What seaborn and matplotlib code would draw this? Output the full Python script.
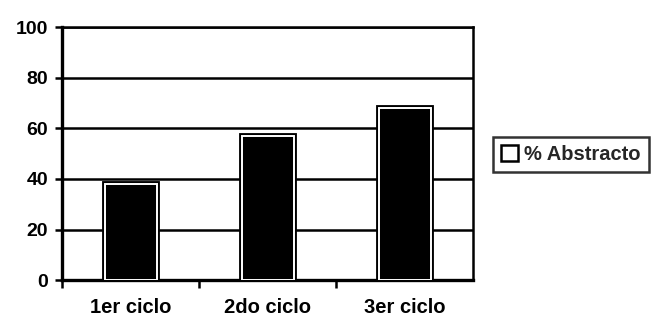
import matplotlib
matplotlib.use("Agg")
import matplotlib.pyplot as plt
import matplotlib.patheffects as pe
from matplotlib.patches import Patch
import seaborn as sns
import pandas as pd

categories = ["1er ciclo", "2do ciclo", "3er ciclo"]
values = [38, 57, 68]
series_name = "% Abstracto"
y_ticks = [0, 20, 40, 60, 80, 100]

sns.set_theme(style="white")
plt.rcParams["font.family"] = ["Liberation Sans", "DejaVu Sans"]
plt.rcParams["font.weight"] = "bold"

df = pd.DataFrame({"ciclo": categories, "valor": values})

fig = plt.figure(figsize=(6.57, 3.22), dpi=100)
ax = fig.add_axes([0.0944, 0.130, 0.626, 0.786])

sns.barplot(data=df, x="ciclo", y="valor", ax=ax, color="black",
            width=0.38, edgecolor="white", linewidth=1.4, zorder=3)
for bar in ax.patches:
    bar.set_path_effects([pe.Stroke(linewidth=4.2, foreground="black"), pe.Normal()])

ax.set_ylim(0, 100)
ax.set_xlim(-0.5, 2.5)
ax.set_yticks(y_ticks)
ax.set_yticklabels([str(t) for t in y_ticks], fontsize=14, fontweight="bold")
ax.set_xticks(range(len(categories)))
ax.set_xticklabels(categories, fontsize=14.5, fontweight="bold")
ax.set_xticks([-0.5, 0.5, 1.5], minor=True)
ax.set_xlabel("")
ax.set_ylabel("")

ax.yaxis.grid(True, color="black", linewidth=1.8, zorder=0)
ax.set_axisbelow(True)
for side in ["left", "right", "top", "bottom"]:
    ax.spines[side].set_visible(True)
    ax.spines[side].set_color("black")
    ax.spines[side].set_linewidth(1.8)
ax.spines["left"].set_linewidth(2.4)
ax.spines["bottom"].set_linewidth(2.4)

ax.tick_params(axis="y", which="major", left=True, length=5, width=1.8,
               direction="out", color="black", pad=5, labelcolor="black")
ax.tick_params(axis="x", which="major", bottom=False, length=0, pad=13,
               labelcolor="black")
ax.tick_params(axis="x", which="minor", bottom=True, length=6, width=1.8,
               direction="out", color="black")

handle = Patch(facecolor="white", edgecolor="black", linewidth=1.8)
leg = fig.legend([handle], [series_name], loc="upper left",
                 bbox_to_anchor=(0.750, 0.575), borderaxespad=0,
                 frameon=True, prop={"weight": "bold", "size": 14.5},
                 handlelength=0.85, handleheight=0.85, handletextpad=0.3,
                 borderpad=0.4, fancybox=False)
leg.get_frame().set_edgecolor("black")
leg.get_frame().set_linewidth(1.8)

fig.savefig("out.png", dpi=100, facecolor="white")
